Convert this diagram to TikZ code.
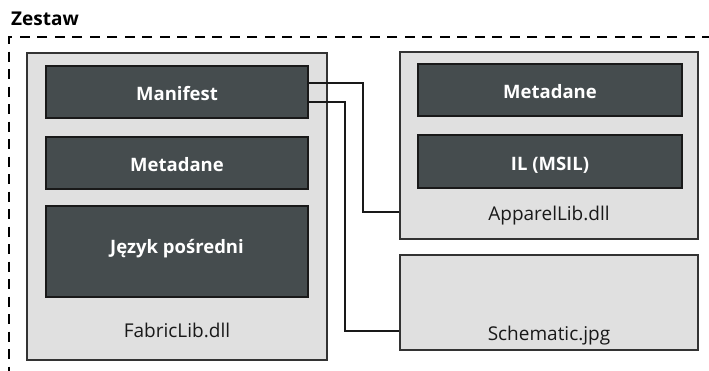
\documentclass[tikz,border=0pt]{standalone}
\usepackage{fontspec}
\setmainfont{Open Sans}
\begin{document}
\begin{tikzpicture}[x=1pt,y=-1pt,
  outerbox/.style={draw=black!80,line width=1.3pt,fill=outerfill,rectangle,inner sep=0pt},
  innerbox/.style={draw=black!90,line width=1.3pt,fill=innerfill,rectangle,inner sep=0pt,
    text=white,font=\fontsize{18.5}{20}\selectfont\bfseries,text height=17pt,text depth=0pt},
  lbl/.style={font=\fontsize{19}{21}\selectfont,text=black!90,inner sep=0pt,anchor=base},
  conn/.style={draw=black!90,line width=1.3pt}]
\definecolor{outerfill}{HTML}{E0E0E0}
\definecolor{innerfill}{HTML}{454C4E}
\useasboundingbox (0,0) rectangle (709,370);
\node[font=\fontsize{19}{21}\selectfont\bfseries,anchor=base west,inner sep=0pt] (title) at (11,25) {Zestaw};
\coordinate (dtl) at (9,37);
\coordinate (dtr) at (712,37);
\coordinate (dbl) at (9,372);
\draw[line width=1.6pt,dash pattern=on 10pt off 7.5pt] (dtr) -- (dtl) -- (dbl);
% FabricLib
\node[outerbox,minimum width=300pt,minimum height=307pt] (fabric) at (177,206.5) {};
\node[innerbox,minimum width=262pt,minimum height=52pt] (manifest) at (177,92) {Manifest};
\node[innerbox,minimum width=262pt,minimum height=52pt] (meta1) at (177,163) {Metadane};
\node[innerbox,minimum width=262pt,minimum height=91pt,text height=4pt] (jezyk) at (177,251.5) {Język pośredni};
\node[lbl] (fabriclbl) at (177,337) {FabricLib.dll};
% ApparelLib
\node[outerbox,minimum width=298pt,minimum height=187pt] (apparel) at (549,145.5) {};
\node[innerbox,minimum width=264pt,minimum height=52pt] (meta2) at (550,90) {Metadane};
\node[innerbox,minimum width=264pt,minimum height=53pt] (il) at (550,161.5) {IL (MSIL)};
\node[lbl] (apparellbl) at (549,220) {ApparelLib.dll};
% Schematic
\node[outerbox,minimum width=298pt,minimum height=95pt] (schem) at (549,302.5) {};
\node[lbl] (schemlbl) at (549,340) {Schematic.jpg};
% connectors
\draw[conn] ([yshift=9pt]manifest.east) -- (363,83) -- (363,212) -- (apparel.west |- 0,212);
\draw[conn] ([yshift=-10pt]manifest.east) -- (345,102) -- (345,331) -- (schem.west |- 0,331);
\end{tikzpicture}
\end{document}
